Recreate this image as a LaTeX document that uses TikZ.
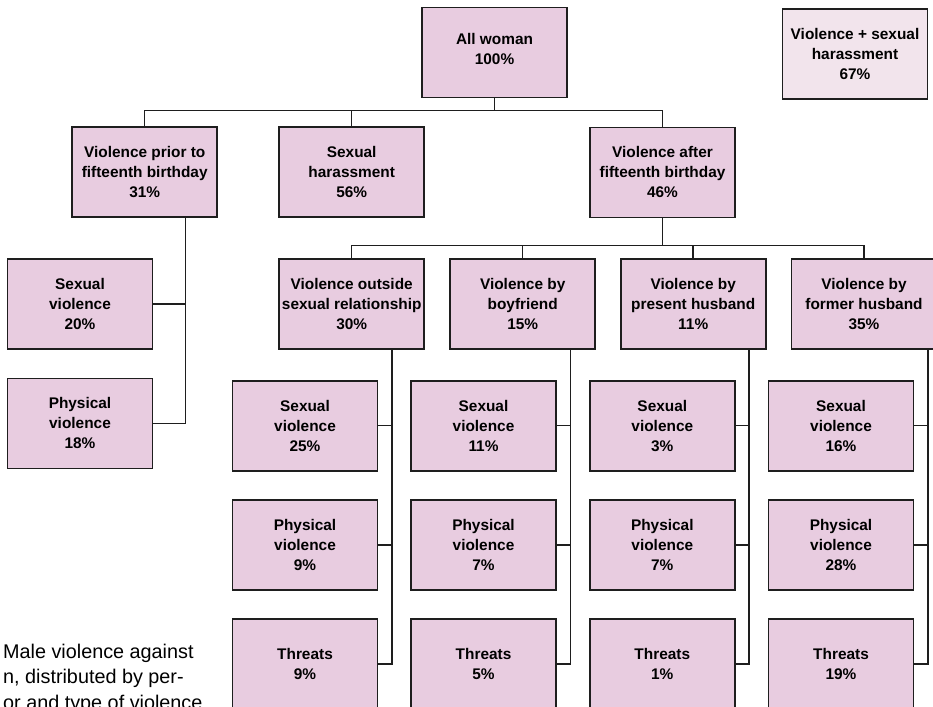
\documentclass[tikz,border=0pt]{standalone}
\usepackage{fontspec}
\setmainfont{Liberation Sans}
\usetikzlibrary{calc}
\definecolor{boxpink}{RGB}{232,204,224}
\definecolor{boxlight}{RGB}{242,228,236}
\definecolor{edge}{RGB}{30,30,30}
\begin{document}
\begin{tikzpicture}[x=1pt,y=-1pt,
  boxtext/.style={inner sep=0pt, align=center, font=\fontsize{15.4}{20}\selectfont\bfseries},
  box/.style={boxtext, draw=edge, line width=1.6pt, fill=boxpink, minimum width=145pt, minimum height=90pt},
  conn/.style={draw=edge, line width=1.45pt},
  captxt/.style={anchor=base west, inner sep=0pt, font=\fontsize{19.8}{25}\selectfont}]
\useasboundingbox (0,0) rectangle (933,706);
\clip (0,0) rectangle (933,706);
\fill[white] (0,0) rectangle (933,706);

% top level
\node[box] (all) at (494.5,52.5) {};
\node[boxtext] (allt) at (494.5,48.5) {All woman\\100\%};
\node[box, fill=boxlight] (vsh) at (855,53.8) {Violence + sexual\\harassment\\67\%};

% level 1
\node[box] (prior) at (144.7,172) {Violence prior to\\fifteenth birthday\\31\%};
\node[box] (harass) at (351.7,172) {Sexual\\harassment\\56\%};
\node[box] (after) at (662.5,172.4) {Violence after\\fifteenth birthday\\46\%};

% left branch
\node[box] (sv20) at (80,304) {Sexual\\violence\\20\%};
\node[box] (pv18) at (80,423.3) {Physical\\violence\\18\%};

% level 2
\node[box] (outs) at (351.7,304) {Violence outside\\sexual relationship\\30\%};
\node[box] (boyf) at (522.7,304) {Violence by\\boyfriend\\15\%};
\node[box] (pres) at (693.2,304) {Violence by\\present husband\\11\%};
\node[box] (form) at (864,304) {Violence by\\former husband\\35\%};

% connectors top
\coordinate (j0) at (492.7,110.7);
\draw[conn] (all.south) -- (all.south |- j0);
\draw[conn] (prior.north) |- (after.north |- j0) -- (after.north);
\draw[conn] (harass.north) -- (harass.north |- j0);

% connectors level 2
\coordinate (j1) at (0,245.3);
\draw[conn] (after.south) -- (after.south |- j1);
\draw[conn] (outs.north) |- (form.north |- j1) -- (form.north);
\draw[conn] (boyf.north) -- (boyf.north |- j1);
\draw[conn] (pres.north) -- (pres.north |- j1);

% left branch connectors
\coordinate (lv) at (185.7,0);
\draw[conn] (prior.south -| lv) -- (lv |- pv18.east) -- (pv18.east);
\draw[conn] (sv20.east) -- (sv20.east -| lv);

% sub boxes per perpetrator
\foreach \n/\p/\px/\a/\b/\c in {1/outs/305/25/9/9, 2/boyf/483.5/11/7/5, 3/pres/662.3/3/7/1, 4/form/841/16/28/19} {
  \node[box] (sa\n) at (\px,425.7) {Sexual\\violence\\\a\%};
  \node[box] (sb\n) at (\px,545) {Physical\\violence\\\b\%};
  \node[box] (sc\n) at (\px,664) {Threats\\\c\%};
  \coordinate (v\n) at ($(sa\n.east)+(13.5,0)$);
  \draw[conn] (\p.south -| v\n) -- (v\n |- sc\n.east) -- (sc\n.east);
  \draw[conn] (sa\n.east) -- (sa\n.east -| v\n);
  \draw[conn] (sb\n.east) -- (sb\n.east -| v\n);
}

% caption fragment (cut by the picture's edge, as in the reference)
\node[captxt] (cap1) at (3,658) {Male violence against};
\node[captxt] (cap2) at (3,683.5) {n, distributed by per-};
\node[captxt] (cap3) at (3,709) {or and type of violence};
\end{tikzpicture}
\end{document}
